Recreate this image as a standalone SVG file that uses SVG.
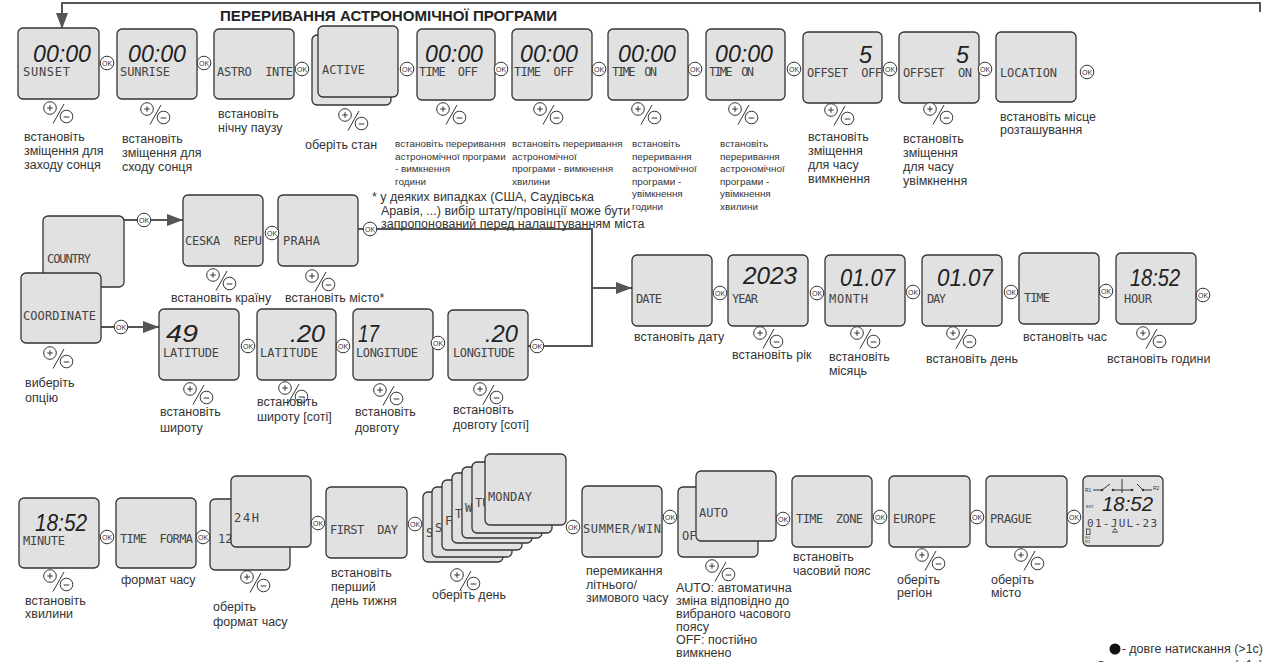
<svg xmlns="http://www.w3.org/2000/svg" width="1265" height="662" viewBox="0 0 1265 662">
<style>
.bx{fill:#e1e1e1;stroke:#333;stroke-width:1.3}
.lcd{font-family:"DejaVu Sans Mono","Liberation Mono",monospace;font-size:12px;fill:#444}
.dg{font-family:"Liberation Sans",Arial,sans-serif;font-style:italic;font-size:24.5px;fill:#222}
.lb{font-family:"Liberation Sans",Arial,sans-serif;font-size:12.5px;fill:#333}
.sm{font-size:9.9px}
.ttl{font-family:"Liberation Sans",Arial,sans-serif;font-size:15px;font-weight:bold;fill:#222}
.okc{fill:#fff;stroke:#333;stroke-width:1}
.okt{font-family:"Liberation Sans",Arial,sans-serif;font-size:7px;fill:#333;text-anchor:middle}
.cn{fill:none;stroke:#555;stroke-width:2}
.pmc{fill:#fff;stroke:#333;stroke-width:1}
.pml{stroke:#333;stroke-width:1;fill:none}
.tiny{font-family:"Liberation Sans",Arial,sans-serif;font-size:5px;fill:#333}
</style>
<defs>
<marker id="arr" markerUnits="userSpaceOnUse" viewBox="0 0 16 12" refX="16" refY="6" markerWidth="16" markerHeight="12" orient="auto">
<path d="M0,0 L16,6 L0,12 z" fill="#555"/>
</marker>
<g id="pm">
<circle class="pmc" cx="0" cy="0" r="6.3"/>
<line class="pml" x1="-2.8" y1="0" x2="2.8" y2="0"/>
<line class="pml" x1="0" y1="-2.8" x2="0" y2="2.8"/>
<circle class="pmc" cx="16.5" cy="8.5" r="6.3"/>
<line class="pml" x1="13.7" y1="9" x2="19.3" y2="9"/>
<line class="pml" x1="3" y1="15.5" x2="14" y2="-4"/>
</g>
</defs>
<rect width="1265" height="662" fill="#fff"/>

<text class="ttl" x="220" y="21" textLength="337" lengthAdjust="spacingAndGlyphs">ПЕРЕРИВАННЯ АСТРОНОМІЧНОЇ ПРОГРАМИ</text>

<g id="connectors">
<path class="cn" d="M1260,12 V3 H62 V29" marker-end="url(#arr)"/>
<path class="cn" d="M124,220 H183" marker-end="url(#arr)"/>
<path class="cn" d="M101,327 H159" marker-end="url(#arr)"/>
<path class="cn" d="M358,229 H592 V346 H528"/>
<path class="cn" d="M592,288 H632" marker-end="url(#arr)"/>
</g>

<!-- Row 1 -->
<g id="n-sunset">
<rect class="bx" x="18" y="28" width="81" height="71" rx="5"/>
<text class="dg" x="33" y="62" textLength="58" lengthAdjust="spacingAndGlyphs">00:00</text>
<text class="lcd" x="23" y="76" textLength="47" lengthAdjust="spacing">SUNSET</text>
<use href="#pm" x="50" y="108"/>
<text class="lb"><tspan x="24" y="141">встановіть</tspan><tspan x="24" y="155">зміщення для</tspan><tspan x="24" y="169">заходу сонця</tspan></text>
</g>
<g id="n-sunrise">
<rect class="bx" x="117" y="29" width="80" height="70" rx="5"/>
<text class="dg" x="128" y="62" textLength="58" lengthAdjust="spacingAndGlyphs">00:00</text>
<text class="lcd" x="120" y="76" textLength="50" lengthAdjust="spacing">SUNRISE</text>
<use href="#pm" x="147" y="109"/>
<text class="lb"><tspan x="122" y="143">встановіть</tspan><tspan x="122" y="157">зміщення для</tspan><tspan x="122" y="171">сходу сонця</tspan></text>
</g>
<g id="n-astro">
<rect class="bx" x="214" y="29" width="80" height="70" rx="5"/>
<text class="lcd" x="217" y="76" textLength="76" lengthAdjust="spacing" xml:space="preserve">ASTRO  INTE</text>
<text class="lb"><tspan x="218" y="118">встановіть</tspan><tspan x="218" y="132">нічну паузу</tspan></text>
</g>
<g id="n-active">
<rect class="bx" x="312" y="35" width="79" height="70" rx="5"/>
<rect class="bx" x="318" y="26" width="80" height="71" rx="5"/>
<text class="lcd" x="322" y="74" textLength="43" lengthAdjust="spacing">ACTIVE</text>
<use href="#pm" x="345" y="115"/>
<text class="lb" x="305" y="149">оберіть стан</text>
</g>
<g id="n-timeoff-h">
<rect class="bx" x="417" y="29" width="78" height="71" rx="5"/>
<text class="dg" x="425" y="62" textLength="58" lengthAdjust="spacingAndGlyphs">00:00</text>
<text class="lcd" x="419" y="76" textLength="59" lengthAdjust="spacing" xml:space="preserve">TIME  OFF</text>
<use href="#pm" x="443" y="109"/>
<text class="lb sm"><tspan x="395" y="147">встановіть переривання</tspan><tspan x="395" y="160">астрономічної програми</tspan><tspan x="395" y="172">- вимкнення</tspan><tspan x="395" y="185">години</tspan></text>
</g>
<g id="n-timeoff-m">
<rect class="bx" x="512" y="29" width="80" height="71" rx="5"/>
<text class="dg" x="520" y="62" textLength="58" lengthAdjust="spacingAndGlyphs">00:00</text>
<text class="lcd" x="514" y="76" textLength="60" lengthAdjust="spacing" xml:space="preserve">TIME  OFF</text>
<use href="#pm" x="540" y="109"/>
<text class="lb sm"><tspan x="512" y="147">встановіть переривання</tspan><tspan x="512" y="160">астрономічної</tspan><tspan x="512" y="172">програми - вимкнення</tspan><tspan x="512" y="185">хвилини</tspan></text>
</g>
<g id="n-timeon-h">
<rect class="bx" x="608" y="29" width="80" height="71" rx="5"/>
<text class="dg" x="618" y="62" textLength="58" lengthAdjust="spacingAndGlyphs">00:00</text>
<text class="lcd" x="612" y="76" textLength="45" lengthAdjust="spacing" xml:space="preserve">TIME  ON</text>
<use href="#pm" x="638" y="109"/>
<text class="lb sm"><tspan x="632" y="147">встановіть</tspan><tspan x="632" y="160">переривання</tspan><tspan x="632" y="172">астрономічної</tspan><tspan x="632" y="185">програми -</tspan><tspan x="632" y="197">увімкнення</tspan><tspan x="632" y="210">години</tspan></text>
</g>
<g id="n-timeon-m">
<rect class="bx" x="706" y="29" width="79" height="71" rx="5"/>
<text class="dg" x="715" y="62" textLength="58" lengthAdjust="spacingAndGlyphs">00:00</text>
<text class="lcd" x="709" y="76" textLength="45" lengthAdjust="spacing" xml:space="preserve">TIME  ON</text>
<use href="#pm" x="735" y="109"/>
<text class="lb sm"><tspan x="720" y="147">встановіть</tspan><tspan x="720" y="160">переривання</tspan><tspan x="720" y="172">астрономічної</tspan><tspan x="720" y="185">програми -</tspan><tspan x="720" y="197">увімкнення</tspan><tspan x="720" y="210">хвилини</tspan></text>
</g>
<g id="n-offset-off">
<rect class="bx" x="803" y="32" width="79" height="71" rx="5"/>
<text class="dg" x="859" y="63" textLength="13" lengthAdjust="spacingAndGlyphs">5</text>
<text class="lcd" x="807" y="77" textLength="75" lengthAdjust="spacing" xml:space="preserve">OFFSET  OFF</text>
<use href="#pm" x="831" y="110"/>
<text class="lb"><tspan x="808" y="141">встановіть</tspan><tspan x="808" y="155">зміщення</tspan><tspan x="808" y="169">для часу</tspan><tspan x="808" y="183">вимкнення</tspan></text>
</g>
<g id="n-offset-on">
<rect class="bx" x="899" y="32" width="80" height="71" rx="5"/>
<text class="dg" x="956" y="63" textLength="13" lengthAdjust="spacingAndGlyphs">5</text>
<text class="lcd" x="903" y="77" textLength="69" lengthAdjust="spacing" xml:space="preserve">OFFSET  ON</text>
<use href="#pm" x="930" y="109"/>
<text class="lb"><tspan x="903" y="143">встановіть</tspan><tspan x="903" y="157">зміщення</tspan><tspan x="903" y="171">для часу</tspan><tspan x="903" y="185">увімкнення</tspan></text>
</g>
<g id="n-location">
<rect class="bx" x="996" y="32" width="80" height="70" rx="5"/>
<text class="lcd" x="1000" y="77" textLength="57" lengthAdjust="spacing">LOCATION</text>
<text class="lb"><tspan x="1000" y="121">встановіть місце</tspan><tspan x="1000" y="134">розташування</tspan></text>
</g>

<!-- Row 2 -->
<g id="n-country">
<rect class="bx" x="43" y="216" width="81" height="71" rx="5"/>
<text class="lcd" x="47" y="263" textLength="44" lengthAdjust="spacing">COUNTRY</text>
</g>
<g id="n-coordinate">
<rect class="bx" x="21" y="273" width="80" height="70" rx="5"/>
<text class="lcd" x="23" y="320" textLength="73" lengthAdjust="spacing">COORDINATE</text>
<use href="#pm" x="50" y="353"/>
<text class="lb"><tspan x="25" y="387">виберіть</tspan><tspan x="25" y="402">опцію</tspan></text>
</g>
<g id="n-ceska">
<rect class="bx" x="183" y="195" width="80" height="71" rx="5"/>
<text class="lcd" x="185" y="245" textLength="77" lengthAdjust="spacing" xml:space="preserve">CESKA  REPU</text>
<use href="#pm" x="213" y="275"/>
<text class="lb" x="171" y="302">встановіть країну</text>
</g>
<g id="n-praha">
<rect class="bx" x="278" y="195" width="80" height="71" rx="5"/>
<text class="lcd" x="283" y="245" textLength="37" lengthAdjust="spacing">PRAHA</text>
<use href="#pm" x="312" y="276"/>
<text class="lb" x="285" y="302">встановіть місто*</text>
</g>
<g id="note">
<text class="lb"><tspan x="372" y="201">* у деяких випадках (США, Саудівська</tspan><tspan x="381" y="215">Аравія, ...) вибір штату/провінції може бути</tspan><tspan x="381" y="228">запропонований перед налаштуванням міста</tspan></text>
</g>
<g id="n-lat1">
<rect class="bx" x="159" y="309" width="80" height="71" rx="5"/>
<text class="dg" x="166" y="342" textLength="32" lengthAdjust="spacingAndGlyphs">49</text>
<text class="lcd" x="163" y="357" textLength="56" lengthAdjust="spacing">LATITUDE</text>
<use href="#pm" x="190" y="389"/>
<text class="lb"><tspan x="160" y="416">встановіть</tspan><tspan x="160" y="432">широту</tspan></text>
</g>
<g id="n-lat2">
<rect class="bx" x="257" y="309" width="79" height="71" rx="5"/>
<text class="dg" x="290" y="342" textLength="35" lengthAdjust="spacingAndGlyphs">.20</text>
<text class="lcd" x="260" y="357" textLength="58" lengthAdjust="spacing">LATITUDE</text>
<use href="#pm" x="285" y="388"/>
<text class="lb"><tspan x="257" y="406">встановіть</tspan><tspan x="257" y="421">широту [соті]</tspan></text>
</g>
<g id="n-lon1">
<rect class="bx" x="353" y="309" width="80" height="71" rx="5"/>
<text class="dg" x="358" y="342" textLength="21" lengthAdjust="spacingAndGlyphs">17</text>
<text class="lcd" x="356" y="357" textLength="62" lengthAdjust="spacing">LONGITUDE</text>
<use href="#pm" x="380" y="390"/>
<text class="lb"><tspan x="355" y="416">встановіть</tspan><tspan x="355" y="432">довготу</tspan></text>
</g>
<g id="n-lon2">
<rect class="bx" x="448" y="310" width="80" height="70" rx="5"/>
<text class="dg" x="485" y="342" textLength="33" lengthAdjust="spacingAndGlyphs">.20</text>
<text class="lcd" x="453" y="357" textLength="62" lengthAdjust="spacing">LONGITUDE</text>
<use href="#pm" x="480" y="389"/>
<text class="lb"><tspan x="453" y="414">встановіть</tspan><tspan x="453" y="429">довготу [соті]</tspan></text>
</g>
<g id="n-date">
<rect class="bx" x="632" y="255" width="80" height="71" rx="5"/>
<text class="lcd" x="636" y="303" textLength="26" lengthAdjust="spacing">DATE</text>
<text class="lb" x="634" y="341">встановіть дату</text>
</g>
<g id="n-year">
<rect class="bx" x="728" y="255" width="80" height="71" rx="5"/>
<text class="dg" x="743" y="284" textLength="54" lengthAdjust="spacingAndGlyphs">2023</text>
<text class="lcd" x="732" y="303" textLength="26" lengthAdjust="spacing">YEAR</text>
<use href="#pm" x="760" y="333"/>
<text class="lb" x="732" y="359">встановіть рік</text>
</g>
<g id="n-month">
<rect class="bx" x="825" y="255" width="80" height="71" rx="5"/>
<text class="dg" x="840" y="286" textLength="55" lengthAdjust="spacingAndGlyphs">01.07</text>
<text class="lcd" x="829" y="303" textLength="39" lengthAdjust="spacing">MONTH</text>
<use href="#pm" x="857" y="333"/>
<text class="lb"><tspan x="829" y="361">встановіть</tspan><tspan x="829" y="375">місяць</tspan></text>
</g>
<g id="n-day">
<rect class="bx" x="922" y="255" width="80" height="71" rx="5"/>
<text class="dg" x="937" y="286" textLength="56" lengthAdjust="spacingAndGlyphs">01.07</text>
<text class="lcd" x="927" y="303" textLength="19" lengthAdjust="spacing">DAY</text>
<use href="#pm" x="953" y="333"/>
<text class="lb" x="926" y="363">встановіть день</text>
</g>
<g id="n-time">
<rect class="bx" x="1019" y="253" width="80" height="71" rx="5"/>
<text class="lcd" x="1024" y="302" textLength="26" lengthAdjust="spacing">TIME</text>
<text class="lb" x="1023" y="341">встановіть час</text>
</g>
<g id="n-hour">
<rect class="bx" x="1116" y="253" width="80" height="71" rx="5"/>
<text class="dg" x="1130" y="286" textLength="50" lengthAdjust="spacingAndGlyphs">18:52</text>
<text class="lcd" x="1124" y="303" textLength="28" lengthAdjust="spacing">HOUR</text>
<use href="#pm" x="1143" y="333"/>
<text class="lb" x="1107" y="363">встановіть години</text>
</g>

<!-- Row 3 -->
<g id="n-minute">
<rect class="bx" x="19" y="498" width="80" height="70" rx="5"/>
<text class="dg" x="35" y="531" textLength="52" lengthAdjust="spacingAndGlyphs">18:52</text>
<text class="lcd" x="23" y="545" textLength="42" lengthAdjust="spacing">MINUTE</text>
<use href="#pm" x="50" y="576"/>
<text class="lb"><tspan x="25" y="605">встановіть</tspan><tspan x="25" y="618">хвилини</tspan></text>
</g>
<g id="n-timeformat">
<rect class="bx" x="116" y="498" width="80" height="70" rx="5"/>
<text class="lcd" x="120" y="543" textLength="73" lengthAdjust="spacing" xml:space="preserve">TIME  FORMA</text>
<text class="lb" x="121" y="584">формат часу</text>
</g>
<g id="n-12-24">
<rect class="bx" x="210" y="499" width="80" height="71" rx="5"/>
<text class="lcd" x="218" y="543">12</text>
<rect class="bx" x="231" y="476" width="80" height="71" rx="5"/>
<text class="lcd" x="234" y="522" textLength="25" lengthAdjust="spacing">24H</text>
<use href="#pm" x="247" y="577"/>
<text class="lb"><tspan x="213" y="611">оберіть</tspan><tspan x="213" y="626">формат часу</tspan></text>
</g>
<g id="n-firstday">
<rect class="bx" x="326" y="487" width="81" height="71" rx="5"/>
<text class="lcd" x="330" y="534" textLength="68" lengthAdjust="spacing" xml:space="preserve">FIRST  DAY</text>
<text class="lb"><tspan x="331" y="577">встановіть</tspan><tspan x="331" y="591">перший</tspan><tspan x="331" y="605">день тижня</tspan></text>
</g>
<g id="n-days">
<rect class="bx" x="423" y="492" width="80" height="70" rx="5"/>
<text class="lcd" x="426" y="537">S</text>
<rect class="bx" x="432" y="487" width="80" height="70" rx="5"/>
<text class="lcd" x="435" y="532">S</text>
<rect class="bx" x="442" y="480" width="80" height="70" rx="5"/>
<text class="lcd" x="445" y="525">F</text>
<rect class="bx" x="452" y="473" width="80" height="70" rx="5"/>
<text class="lcd" x="455" y="518">T</text>
<rect class="bx" x="462" y="467" width="80" height="71" rx="5"/>
<text class="lcd" x="465" y="512">W</text>
<rect class="bx" x="472" y="462" width="80" height="71" rx="5"/>
<text class="lcd" x="475" y="507">TU</text>
<rect class="bx" x="485" y="454" width="81" height="71" rx="5"/>
<text class="lcd" x="488" y="501" textLength="44" lengthAdjust="spacing">MONDAY</text>
<use href="#pm" x="457" y="575"/>
<text class="lb" x="432" y="599">оберіть день</text>
</g>
<g id="n-summer">
<rect class="bx" x="582" y="486" width="80" height="71" rx="5"/>
<text class="lcd" x="583" y="533" textLength="78" lengthAdjust="spacing">SUMMER/WIN</text>
<text class="lb"><tspan x="586" y="575">перемикання</tspan><tspan x="586" y="589">літнього/</tspan><tspan x="586" y="602">зимового часу</tspan></text>
</g>
<g id="n-auto">
<rect class="bx" x="678" y="487" width="80" height="70" rx="5"/>
<text class="lcd" x="682" y="540">OF</text>
<rect class="bx" x="696" y="471" width="80" height="70" rx="5"/>
<text class="lcd" x="699" y="517" textLength="29" lengthAdjust="spacing">AUTO</text>
<use href="#pm" x="712" y="566"/>
<text class="lb"><tspan x="676" y="592">AUTO: автоматична</tspan><tspan x="676" y="605">зміна відповідно до</tspan><tspan x="676" y="618">вибраного часового</tspan><tspan x="676" y="631">поясу</tspan><tspan x="676" y="644">OFF: постійно</tspan><tspan x="676" y="657">вимкнено</tspan></text>
</g>
<g id="n-timezone">
<rect class="bx" x="792" y="476" width="80" height="71" rx="5"/>
<text class="lcd" x="796" y="523" textLength="67" lengthAdjust="spacing" xml:space="preserve">TIME  ZONE</text>
<text class="lb"><tspan x="793" y="561">встановіть</tspan><tspan x="793" y="575">часовий пояс</tspan></text>
</g>
<g id="n-europe">
<rect class="bx" x="889" y="476" width="81" height="71" rx="5"/>
<text class="lcd" x="893" y="523" textLength="43" lengthAdjust="spacing">EUROPE</text>
<use href="#pm" x="922" y="555"/>
<text class="lb"><tspan x="897" y="584">оберіть</tspan><tspan x="897" y="597">регіон</tspan></text>
</g>
<g id="n-prague">
<rect class="bx" x="986" y="476" width="81" height="71" rx="5"/>
<text class="lcd" x="990" y="523" textLength="42" lengthAdjust="spacing">PRAGUE</text>
<use href="#pm" x="1021" y="555"/>
<text class="lb"><tspan x="991" y="584">оберіть</tspan><tspan x="991" y="597">місто</tspan></text>
</g>
<g id="n-display">
<rect class="bx" x="1083" y="476" width="80" height="70" rx="5"/>
<text class="tiny" x="1085" y="492">R1</text>
<text class="tiny" x="1153" y="490">R2</text>
<path class="pml" d="M1093,490 H1102 M1102,490 L1110,484 M1113,490 H1132 M1122,479 V493 M1137,484 L1143,490 M1143,490 H1152"/>
<circle cx="1102" cy="490" r="1.3" fill="#333"/>
<circle cx="1113" cy="490" r="1.3" fill="#333"/>
<circle cx="1132" cy="490" r="1.3" fill="#333"/>
<circle cx="1143" cy="490" r="1.3" fill="#333"/>
<text class="dg" x="1102" y="511" textLength="51" lengthAdjust="spacingAndGlyphs" style="font-size:21px">18:52</text>
<text class="tiny" x="1086" y="508" style="font-size:4px">BST</text>
<text class="lcd" x="1087" y="527" textLength="70" lengthAdjust="spacing" style="font-size:11px">01-JUL-23</text>
<path class="pml" d="M1112,532 H1118 M1113.5,530.5 L1115,528.5 L1116.5,530.5"/>
<rect x="1086.5" y="529" width="3.5" height="5.5" fill="none" stroke="#333" stroke-width="0.8"/>
<text class="tiny" x="1085" y="539" style="font-size:4px">R1</text>
<text class="tiny" x="1085" y="543" style="font-size:4px">R2</text>
</g>

<g id="legend">
<circle cx="1115" cy="649" r="5.5" fill="#111"/>
<text class="lb" x="1263" y="653" text-anchor="end">- довге натискання (&gt;1с)</text>
<circle cx="1101" cy="667" r="5.5" fill="none" stroke="#333" stroke-width="1"/>
<text class="lb" x="1263" y="669" text-anchor="end">- коротке натискання (&lt;1с)</text>
</g>

<g id="ok-buttons">
<g><circle class="okc" cx="107" cy="63" r="6.8"/><text class="okt" x="107" y="65.5">OK</text></g>
<g><circle class="okc" cx="204" cy="63" r="6.8"/><text class="okt" x="204" y="65.5">OK</text></g>
<g><circle class="okc" cx="302" cy="69" r="6.8"/><text class="okt" x="302" y="71.5">OK</text></g>
<g><circle class="okc" cx="407" cy="69" r="6.8"/><text class="okt" x="407" y="71.5">OK</text></g>
<g><circle class="okc" cx="501" cy="69" r="6.8"/><text class="okt" x="501" y="71.5">OK</text></g>
<g><circle class="okc" cx="599" cy="69" r="6.8"/><text class="okt" x="599" y="71.5">OK</text></g>
<g><circle class="okc" cx="695" cy="69" r="6.8"/><text class="okt" x="695" y="71.5">OK</text></g>
<g><circle class="okc" cx="794" cy="69" r="6.8"/><text class="okt" x="794" y="71.5">OK</text></g>
<g><circle class="okc" cx="890" cy="69" r="6.8"/><text class="okt" x="890" y="71.5">OK</text></g>
<g><circle class="okc" cx="985" cy="69" r="6.8"/><text class="okt" x="985" y="71.5">OK</text></g>
<g><circle class="okc" cx="1087" cy="72" r="6.8"/><text class="okt" x="1087" y="74.5">OK</text></g>
<g><circle class="okc" cx="144" cy="220" r="6.8"/><text class="okt" x="144" y="222.5">OK</text></g>
<g><circle class="okc" cx="272" cy="233" r="6.8"/><text class="okt" x="272" y="235.5">OK</text></g>
<g><circle class="okc" cx="370" cy="229" r="6.8"/><text class="okt" x="370" y="231.5">OK</text></g>
<g><circle class="okc" cx="121" cy="327" r="6.8"/><text class="okt" x="121" y="329.5">OK</text></g>
<g><circle class="okc" cx="248" cy="346" r="6.8"/><text class="okt" x="248" y="348.5">OK</text></g>
<g><circle class="okc" cx="343" cy="346" r="6.8"/><text class="okt" x="343" y="348.5">OK</text></g>
<g><circle class="okc" cx="438" cy="343" r="6.8"/><text class="okt" x="438" y="345.5">OK</text></g>
<g><circle class="okc" cx="537" cy="346" r="6.8"/><text class="okt" x="537" y="348.5">OK</text></g>
<g><circle class="okc" cx="720" cy="293" r="6.8"/><text class="okt" x="720" y="295.5">OK</text></g>
<g><circle class="okc" cx="817" cy="293" r="6.8"/><text class="okt" x="817" y="295.5">OK</text></g>
<g><circle class="okc" cx="913" cy="292" r="6.8"/><text class="okt" x="913" y="294.5">OK</text></g>
<g><circle class="okc" cx="1011" cy="292" r="6.8"/><text class="okt" x="1011" y="294.5">OK</text></g>
<g><circle class="okc" cx="1106" cy="291" r="6.8"/><text class="okt" x="1106" y="293.5">OK</text></g>
<g><circle class="okc" cx="1203" cy="295" r="6.8"/><text class="okt" x="1203" y="297.5">OK</text></g>
<g><circle class="okc" cx="107" cy="537" r="6.8"/><text class="okt" x="107" y="539.5">OK</text></g>
<g><circle class="okc" cx="203" cy="537" r="6.8"/><text class="okt" x="203" y="539.5">OK</text></g>
<g><circle class="okc" cx="318" cy="523" r="6.8"/><text class="okt" x="318" y="525.5">OK</text></g>
<g><circle class="okc" cx="415" cy="524" r="6.8"/><text class="okt" x="415" y="526.5">OK</text></g>
<g><circle class="okc" cx="573" cy="527" r="6.8"/><text class="okt" x="573" y="529.5">OK</text></g>
<g><circle class="okc" cx="670" cy="517" r="6.8"/><text class="okt" x="670" y="519.5">OK</text></g>
<g><circle class="okc" cx="783" cy="519" r="6.8"/><text class="okt" x="783" y="521.5">OK</text></g>
<g><circle class="okc" cx="880" cy="517" r="6.8"/><text class="okt" x="880" y="519.5">OK</text></g>
<g><circle class="okc" cx="977" cy="517" r="6.8"/><text class="okt" x="977" y="519.5">OK</text></g>
<g><circle class="okc" cx="1074" cy="517" r="6.8"/><text class="okt" x="1074" y="519.5">OK</text></g>
</g>
</svg>
